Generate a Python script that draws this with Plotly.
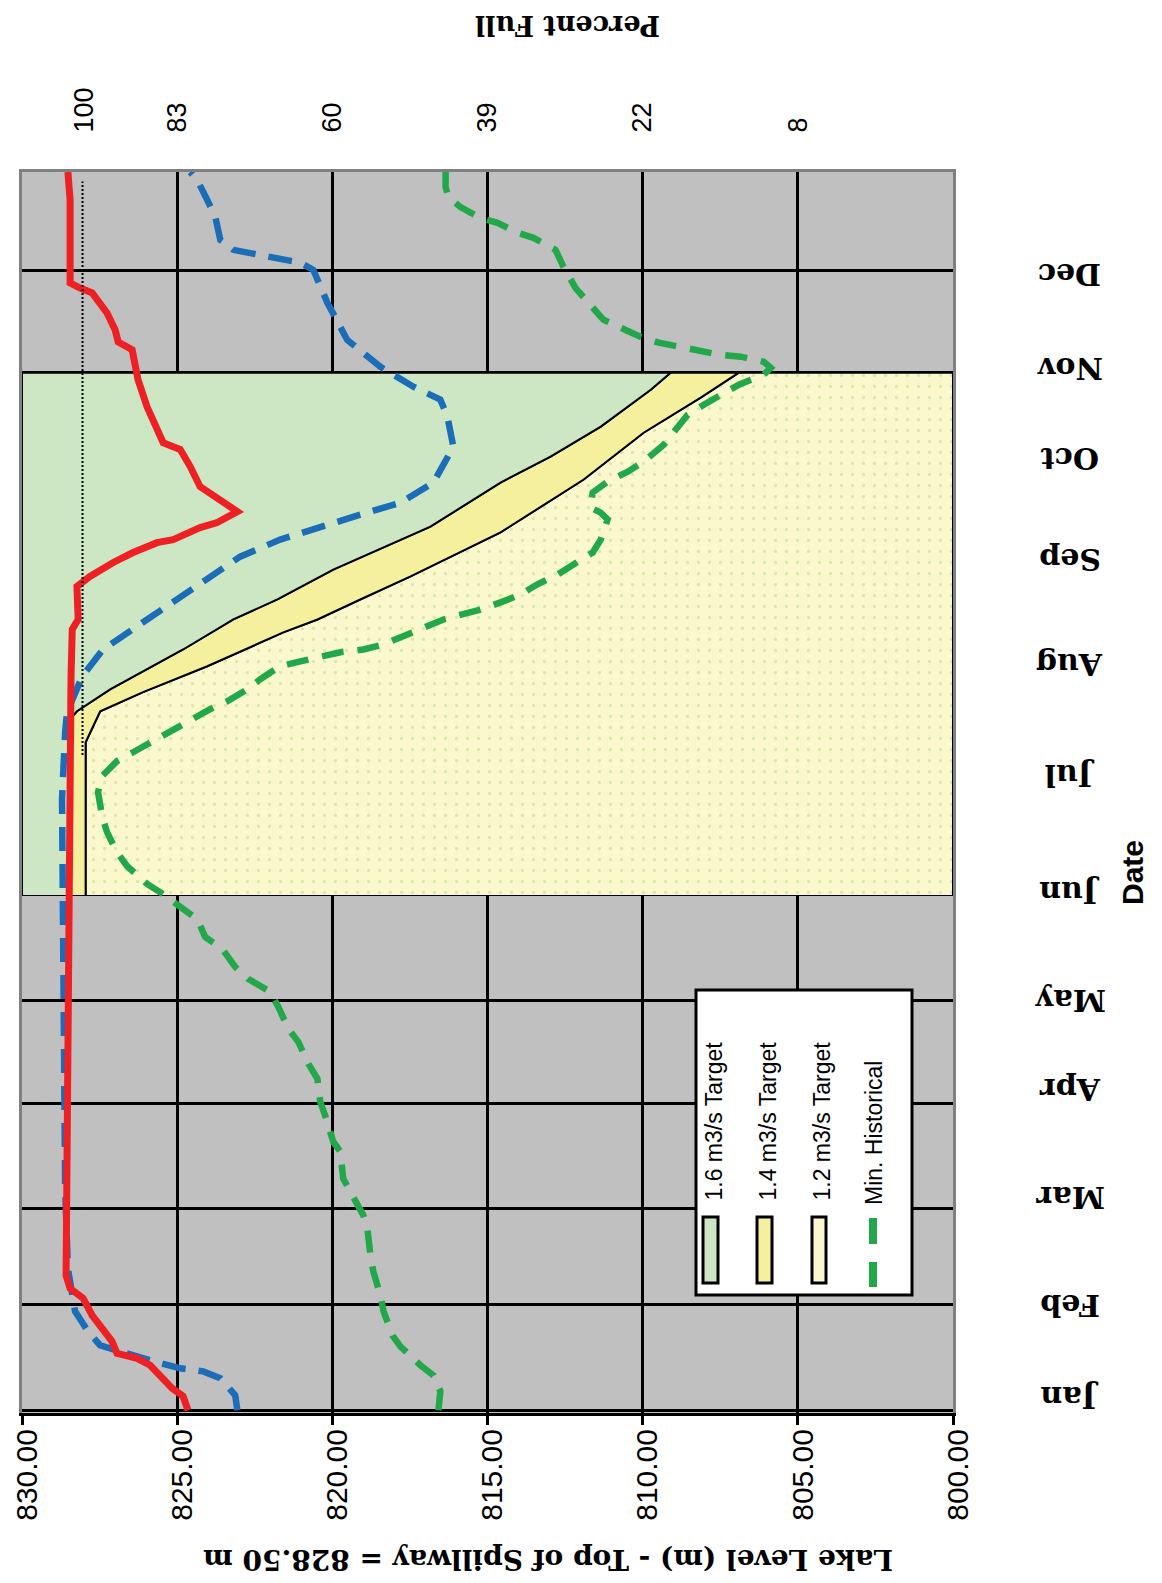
import plotly.graph_objects as go

# ---------------- data (day of year, lake level m) ----------------
months = ["Jan", "Feb", "Mar", "Apr", "May", "Jun", "Jul", "Aug", "Sep", "Oct", "Nov", "Dec"]
month_start = [0, 31, 59, 90, 120, 151, 181, 212, 243, 273, 304, 334]
month_label_day = [3.8, 30.7, 62.3, 94.2, 120.0, 151.9, 185.8, 218.3, 249.3, 278.8, 305.4, 332.6]

level_ticks = [830, 825, 820, 815, 810, 805, 800]
pct_tick_level = [828.0, 825, 820, 815, 810, 805]
pct_tick_text = ["100", "83", "60", "39", "22", "8"]

# target boundaries (Jun 1 - Nov 1)
t16_day = [151, 202.5, 204.8, 211.2, 222.9, 231.7, 237.6, 246.3, 258.9, 271.8, 279.4, 288.2, 299.0, 304]
t16_lvl = [828.45, 828.45, 828.23, 827.16, 824.81, 823.19, 821.77, 819.97, 816.84, 814.58, 812.97, 811.35, 809.74, 809.1]
t14_day = [151, 195.7, 204.8, 210.4, 218.0, 227.9, 231.7, 237.6, 244.3, 257.2, 272.7, 286.4, 296.7, 304]
t14_lvl = [827.95, 827.95, 827.48, 826.10, 824.03, 821.58, 820.48, 819.10, 817.48, 814.58, 811.90, 809.97, 808.13, 806.9]

red_day = [0, 4.1, 6.4, 9.4, 13.2, 15.2, 16.7, 20.2, 24.0, 27.8, 32.8, 35.7, 39.5, 70, 100, 150, 190,
           215, 228.8, 231.7, 241.4, 244.3, 248.4, 251.3, 254.2, 255.1, 258.6, 260.1, 263.3, 268.9, 270.6,
           276.5, 281.5, 283.5, 287.3, 294.0, 301.9, 310.7, 313.0, 316.6, 321.5, 324.5, 327.4, 328.8,
           330.3, 354.6, 362.8]
red_lvl = [824.65, 824.81, 825.16, 825.45, 825.87, 826.29, 826.94, 827.10, 827.39, 827.74, 828.03, 828.45,
           828.58, 828.55, 828.52, 828.52, 828.45, 828.42, 828.38, 828.19, 828.23, 827.81, 827.06, 826.42,
           825.65, 825.13, 824.26, 823.71, 823.06, 824.03, 824.26, 824.58, 824.90, 825.45, 825.65, 825.97,
           826.26, 826.45, 826.90, 827.00, 827.26, 827.48, 827.74, 828.13, 828.45, 828.45, 828.52]

blue_day = [0, 4.4, 9.4, 11.4, 12.3, 13.8, 19.0, 23.1, 29.0, 34.8, 41.5, 65, 100, 130, 153.6, 179.1, 198.7,
            204.5, 215.0, 222.9, 229.7, 236.7, 243.4, 250.1, 255.1, 258.9, 262.4, 265.9, 271.8, 282.3,
            291.1, 296.1, 299.9, 305.7, 313.6, 324.5, 334.1, 336.2, 337.6, 338.5, 340.0, 342.9, 349.6,
            354.6, 360.4, 362.8]
blue_lvl = [823.06, 823.13, 823.61, 824.16, 824.90, 825.55, 827.48, 827.87, 828.29, 828.39, 828.52, 828.61,
            828.65, 828.68, 828.71, 828.71, 828.61, 828.55, 828.06, 827.39, 826.29, 825.13, 824.03, 822.97,
            821.68, 820.39, 819.10, 817.81, 816.74, 816.10, 816.29, 816.52, 817.39, 818.45, 819.52, 820.16,
            820.61, 821.03, 821.90, 822.42, 823.19, 823.61, 823.77, 824.03, 824.35, 824.58]

minh_day = [0, 5.6, 10.2, 13.2, 18.7, 21.9, 29.0, 33.6, 40.7, 45.3, 53.2, 57.1, 62.9, 67.9, 75.8, 78.7,
            86.3, 90.4, 97.1, 101.5, 108.0, 111.8, 118.2, 122.6, 126.4, 129.9, 135.2, 138.7, 143.9, 147.7,
            151.8, 154.2, 159.4, 163.5, 169.4, 174.1, 181.1, 185.8, 190.2, 192.8, 196.0, 201.9, 205.4,
            207.7, 211.2, 214.2, 218.0, 219.4, 220.9, 222.1, 222.9, 224.4, 231.7, 234.6, 236.7, 239.0,
            242.0, 244.9, 247.8, 251.3, 255.1, 261.0, 263.0, 264.5, 268.9, 272.1, 275.0, 277.9, 282.9,
            286.4, 291.7, 294.6, 298.1, 300.5, 303.4, 305.4, 307.2, 308.7, 309.2, 310.7, 311.6, 312.8,
            314.5, 317.4, 319.5, 324.7, 328.8, 335.0, 340.0, 343.5, 344.9, 347.9, 349.3, 352.5, 355.5,
            358.4, 362.8]
minh_lvl = [816.58, 816.52, 816.74, 817.16, 817.81, 818.06, 818.35, 818.45, 818.68, 818.77, 818.87, 819.00,
            819.35, 819.65, 819.74, 819.97, 820.23, 820.39, 820.48, 820.77, 821.10, 821.42, 821.74, 822.00,
            822.71, 823.13, 823.55, 824.10, 824.35, 824.90, 825.55, 825.97, 826.61, 826.94, 827.26, 827.42,
            827.55, 827.42, 826.94, 826.42, 825.77, 824.68, 823.94, 823.39, 822.74, 822.32, 821.68, 821.03,
            820.39, 819.74, 819.00, 818.35, 816.42, 815.23, 814.58, 813.94, 813.39, 812.74, 812.23, 811.61,
            811.35, 811.13, 811.35, 811.68, 811.61, 811.13, 810.48, 809.97, 809.32, 809.00, 808.55, 808.03,
            807.39, 806.90, 806.10, 805.87, 806.10, 806.84, 807.48, 808.23, 808.77, 809.48, 810.06, 810.77,
            811.26, 811.77, 812.16, 812.55, 812.81, 813.52, 814.00, 814.68, 815.23, 815.87, 816.26, 816.35,
            816.35]

spill_day = [192, 360]
spill_lvl = [828.05, 828.05]

LVL_TOP, LVL_BOT = 830, 800
Y_RANGE = [-0.8, 362.8]

# ---------------- layout geometry ----------------
# The page body has an 8px margin, so the figure is drawn 8px right/down.
OFF = 8
W, H = 1162 - 2 * OFF + 8, 1583 - 2 * OFF   # 1154 x 1567
# plot area in screen pixels
SL, SR, ST, SB = 22, 953, 172, 1413


def pxx(px):
    return (px - SL) / (SR - SL)


def pxy(py):
    return (SB - py) / (SB - ST)


C_GREEN_AREA = "#cde6c4"
C_YELLOW = "#f4f09e"
C_LIGHT = "#fbf8cd"
C_RED = "#ed2124"
C_BLUE = "#1b6db8"
C_GREEN = "#22a84b"

fig = go.Figure()

# 1.2 m3/s target area (light dotted) : from 1.4 boundary to 800
fig.add_trace(go.Scatter(
    x=t14_lvl + [LVL_BOT, LVL_BOT], y=t14_day + [t14_day[-1], t14_day[0]],
    fill="toself", mode="lines", line=dict(color="black", width=2),
    fillcolor=C_LIGHT,
    fillpattern=dict(shape=".", bgcolor=C_LIGHT, fgcolor="#bcd98a", size=11, solidity=0.08),
    name="1.2 m3/s Target", showlegend=False, hoverinfo="skip"))
# 1.4 m3/s target area (yellow): between boundaries
fig.add_trace(go.Scatter(
    x=t16_lvl + t14_lvl[::-1], y=t16_day + t14_day[::-1],
    fill="toself", mode="lines", line=dict(color="black", width=2),
    fillcolor=C_YELLOW, name="1.4 m3/s Target", showlegend=False, hoverinfo="skip"))
# 1.6 m3/s target area (green): from 830 to 1.6 boundary
fig.add_trace(go.Scatter(
    x=t16_lvl + [LVL_TOP, LVL_TOP], y=t16_day + [t16_day[-1], t16_day[0]],
    fill="toself", mode="lines", line=dict(color="black", width=2),
    fillcolor=C_GREEN_AREA, name="1.6 m3/s Target", showlegend=False, hoverinfo="skip"))

fig.add_trace(go.Scatter(x=minh_lvl, y=minh_day, mode="lines",
                         line=dict(color=C_GREEN, width=6.5, dash="22px,14px"),
                         name="Min. Historical", showlegend=False))
fig.add_trace(go.Scatter(x=blue_lvl, y=blue_day, mode="lines",
                         line=dict(color=C_BLUE, width=6.5, dash="24px,13px"),
                         showlegend=False))
fig.add_trace(go.Scatter(x=red_lvl, y=red_day, mode="lines",
                         line=dict(color=C_RED, width=7), showlegend=False))
fig.add_trace(go.Scatter(x=spill_lvl, y=spill_day, mode="lines", xaxis="x2",
                         line=dict(color="black", width=2, dash="2px,2px"), showlegend=False))

# ---------------- annotations (rotated text) ----------------
ann = []
for m, d in zip(months, month_label_day):
    ann.append(dict(text="<b>" + m + "</b>", x=pxx(1070), xref="paper", y=d, yref="y",
                    showarrow=False, textangle=180, xanchor="center", yanchor="middle",
                    font=dict(family="DejaVu Serif", size=30, color="black")))
ann.append(dict(text="<b>Date</b>", x=pxx(1132), y=pxy(873), xref="paper", yref="paper",
                showarrow=False, textangle=-90, xanchor="center", yanchor="middle",
                font=dict(family="Liberation Sans", size=30, color="black")))
ann.append(dict(text="<b>Lake Level (m) - Top of Spillway = 828.50 m</b>", x=pxx(548), y=pxy(1560),
                xref="paper", yref="paper", showarrow=False, textangle=180,
                xanchor="center", yanchor="middle",
                font=dict(family="DejaVu Serif", size=28, color="black")))
ann.append(dict(text="<b>Percent Full</b>", x=pxx(568), y=pxy(25), xref="paper", yref="paper",
                showarrow=False, textangle=180, xanchor="center", yanchor="middle",
                font=dict(family="DejaVu Serif", size=27, color="black")))

# legend (custom, rotated)
leg_labels = ["1.6 m3/s Target", "1.4 m3/s Target", "1.2 m3/s Target", "Min. Historical"]
leg_x = [713, 767, 821, 874]
leg_text_bottom = [1203, 1203, 1203, 1207]
for lab, lx, lb in zip(leg_labels, leg_x, leg_text_bottom):
    ann.append(dict(text=lab, x=pxx(lx), y=pxy(lb), xref="paper", yref="paper",
                    showarrow=False, textangle=-90, xanchor="center", yanchor="bottom",
                    font=dict(family="Liberation Sans", size=23, color="black")))

shapes = []
shapes.append(dict(type="rect", xref="paper", yref="paper", x0=pxx(696), x1=pxx(912),
                   y0=pxy(1295), y1=pxy(990), fillcolor="white", line=dict(color="black", width=3),
                   layer="above"))
sym_cols = [C_GREEN_AREA, C_YELLOW, C_LIGHT]
sym_x = [(703, 718), (757, 772), (812, 826)]
for c, (a, b) in zip(sym_cols, sym_x):
    shapes.append(dict(type="rect", xref="paper", yref="paper", x0=pxx(a), x1=pxx(b),
                       y0=pxy(1283), y1=pxy(1217), fillcolor=c, line=dict(color="black", width=3),
                       layer="above"))
for (a, b) in [(1218, 1244), (1262, 1287)]:
    shapes.append(dict(type="line", xref="paper", yref="paper", x0=pxx(873), x1=pxx(873),
                       y0=pxy(a), y1=pxy(b), line=dict(color=C_GREEN, width=8), layer="above"))
# page border line on the right
shapes.append(dict(type="line", xref="paper", yref="paper", x0=pxx(1159), x1=pxx(1159),
                   y0=pxy(0), y1=pxy(1583), line=dict(color="#6d8fc7", width=3)))

fig.update_layout(
    width=W, height=H,
    margin=dict(l=SL - OFF, r=W - (SR - OFF), t=ST - OFF, b=H - (SB - OFF), pad=0, autoexpand=False),
    paper_bgcolor="white", plot_bgcolor="#c0c0c0",
    showlegend=False,
    annotations=ann, shapes=shapes,
    xaxis=dict(range=[LVL_TOP, LVL_BOT], tickvals=level_ticks, tickformat=".2f",
               showgrid=True, gridcolor="black", gridwidth=3, zeroline=False,
               showline=True, linecolor="black", linewidth=3,
               ticks="outside", ticklen=9, tickwidth=3, tickcolor="black",
               tickangle=-90, ticklabelstandoff=-8, ticklabelshift=-5,
               automargin=False, ticklabeloverflow="allow",
               tickfont=dict(family="Liberation Sans", size=30, color="black")),
    xaxis2=dict(range=[LVL_TOP, LVL_BOT], overlaying="x", side="top",
                tickvals=pct_tick_level, ticktext=pct_tick_text,
                showgrid=False, zeroline=False, showline=True, linecolor="#808080", linewidth=3,
                ticks="", tickangle=-90, ticklabelstandoff=31, automargin=False,
                ticklabeloverflow="allow",
                tickfont=dict(family="Liberation Sans", size=27, color="black")),
    yaxis=dict(range=Y_RANGE, tickvals=month_start, showticklabels=False, automargin=False,
               showgrid=True, gridcolor="black", gridwidth=3, zeroline=False,
               showline=True, linecolor="#808080", linewidth=3, mirror=True, ticks=""),
)

fig.write_html("out.html")
